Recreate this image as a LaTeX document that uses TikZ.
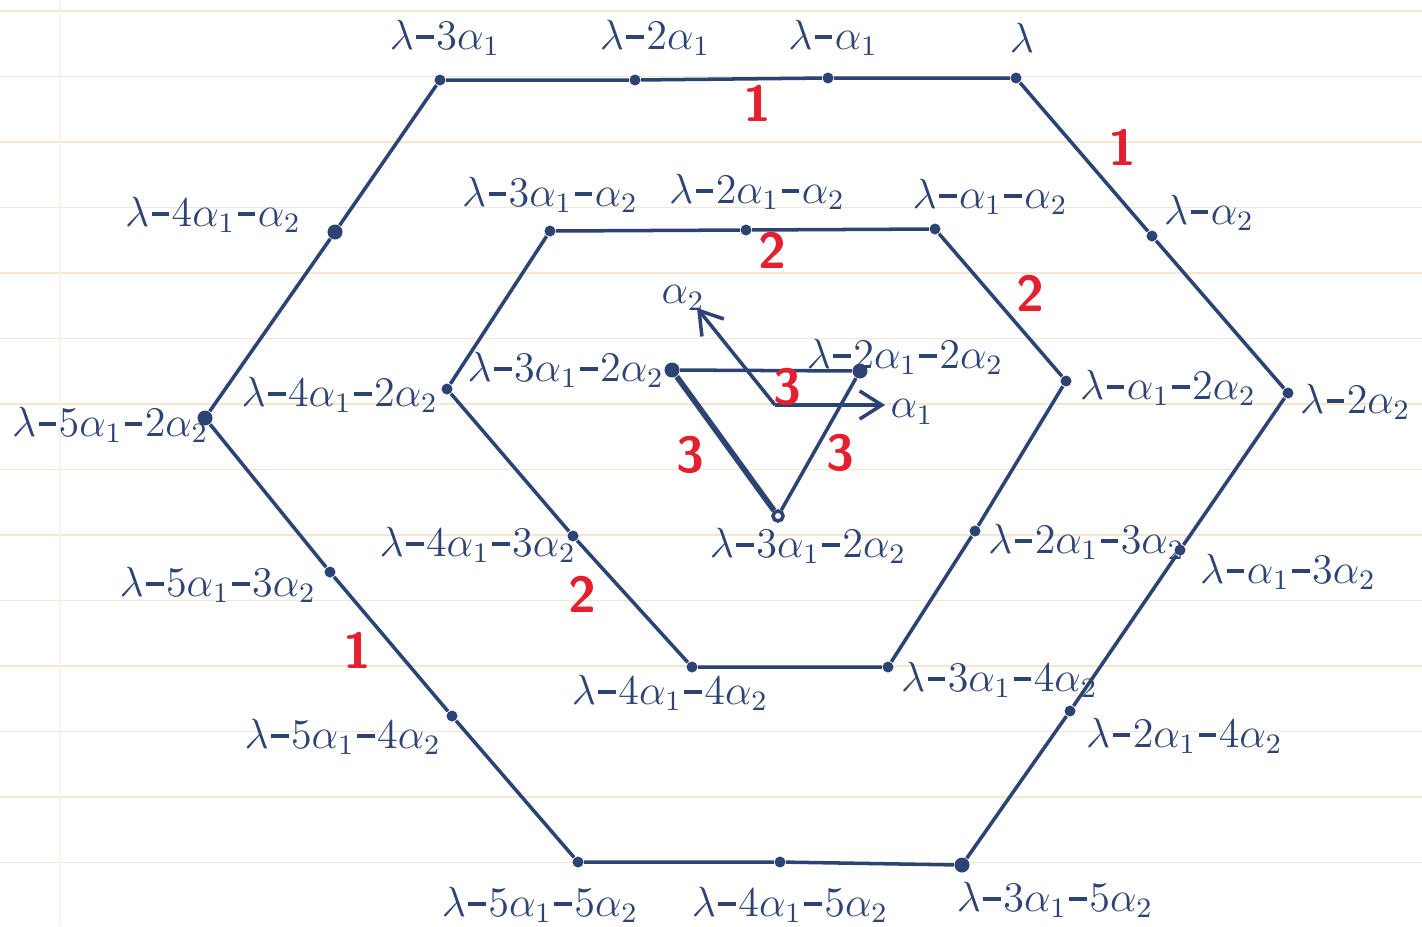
\documentclass[tikz,border=0pt]{standalone}
\usetikzlibrary{arrows.meta}
\definecolor{ink}{HTML}{2C4373}
\definecolor{redink}{HTML}{E5202E}
\definecolor{rulec}{HTML}{F5E6D2}
\newcommand\mi{\mathord{\mkern1mu\mbox{\rule[0.6ex]{0.42em}{0.075em}}\mkern1mu}}
\begin{document}
\begin{tikzpicture}[x=0.01cm,y=-0.01cm,
  dot/.style={circle,fill=ink,inner sep=0pt,minimum size=0.11cm},
  bigdot/.style={circle,fill=ink,inner sep=0pt,minimum size=0.15cm},
  odot/.style={circle,draw=ink,fill=white,line width=1pt,inner sep=0pt,minimum size=0.1cm},
  lbl/.style={text=ink,font=\fontsize{12}{14}\selectfont,inner sep=1pt},
  mult/.style={text=redink,font=\Large\bfseries\sffamily,inner sep=1pt},
  edge/.style={draw=ink,line width=1pt},
  thick edge/.style={draw=ink,line width=1.6pt},
  root/.style={draw=ink,line width=1pt,-{Straight Barb[length=2.2mm,width=2.8mm]}}]
\fill[white] (0,0) rectangle (1422,926);
\useasboundingbox (0,0) rectangle (1422,926);
\foreach \k in {0,...,13} \draw[rulec,line width=0.5pt] (0,{11+65.5*\k}) -- (1422,{11+65.5*\k});
\draw[rulec!50,line width=0.4pt] (60,0) -- (60,926);

% outer hexagon
\node[dot] (a1) at (440,80) {};
\node[dot] (a2) at (635,80) {};
\node[dot] (a3) at (828,78) {};
\node[dot] (a4) at (1016,78) {};
\node[dot] (a5) at (1152,236) {};
\node[dot] (a6) at (1288,393) {};
\node[dot] (a7) at (1180,550) {};
\node[dot] (a8) at (1070,711) {};
\node[bigdot] (a9) at (962,865) {};
\node[dot] (a10) at (780,862) {};
\node[dot] (a11) at (578,862) {};
\node[dot] (a12) at (452,716) {};
\node[dot] (a13) at (330,572) {};
\node[bigdot] (a14) at (205,418) {};
\node[bigdot] (a15) at (335,232) {};
\draw[edge] (a1)--(a2)--(a3)--(a4)--(a5)--(a6)--(a7)--(a8)--(a9)--(a10)--(a11)--(a12)--(a13)--(a14)--(a15)--(a1);

% middle hexagon
\node[dot] (b1) at (550,231) {};
\node[dot] (b2) at (746,230) {};
\node[dot] (b3) at (935,229) {};
\node[dot] (b4) at (1066,381) {};
\node[dot] (b5) at (975,531) {};
\node[dot] (b6) at (888,667) {};
\node[dot] (b7) at (692,667) {};
\node[dot] (b8) at (573,536) {};
\node[dot] (b9) at (447,389) {};
\draw[edge] (b1)--(b2)--(b3)--(b4)--(b5)--(b6)--(b7)--(b8)--(b9)--(b1);

% inner triangle
\node[bigdot] (c1) at (672,370) {};
\node[bigdot] (c2) at (860,371) {};
\node[odot] (c3) at (778,516) {};
\draw[edge] (c1)--(c2);
\draw[thick edge] (c1)--(c3);
\draw[edge] (c3)--(c2);

% roots
\coordinate (o) at (775,405);
\coordinate (e1) at (885,405);
\coordinate (e2) at (697,308);
\draw[root] (o)--(e1);
\draw[root] (o)--(e2);
\node[lbl] at (912,412) {$\alpha_1$};
\node[lbl] at (683,298) {$\alpha_2$};

% outer labels
\node[lbl] at (445,38) {$\lambda\mi3\alpha_1$};
\node[lbl] at (655,38) {$\lambda\mi2\alpha_1$};
\node[lbl] at (833,38) {$\lambda\mi\alpha_1$};
\node[lbl] at (1022,38) {$\lambda$};
\node[lbl,anchor=west] at (1160,213) {$\lambda\mi\alpha_2$};
\node[lbl,anchor=west] at (1296,402) {$\lambda\mi2\alpha_2$};
\node[lbl,anchor=west] at (1196,572) {$\lambda\mi\alpha_1\mi3\alpha_2$};
\node[lbl,anchor=west] at (1082,736) {$\lambda\mi2\alpha_1\mi4\alpha_2$};
\node[lbl] at (1055,900) {$\lambda\mi3\alpha_1\mi5\alpha_2$};
\node[lbl] at (790,905) {$\lambda\mi4\alpha_1\mi5\alpha_2$};
\node[lbl] at (540,905) {$\lambda\mi5\alpha_1\mi5\alpha_2$};
\node[lbl,anchor=east] at (445,737) {$\lambda\mi5\alpha_1\mi4\alpha_2$};
\node[lbl,anchor=east] at (320,585) {$\lambda\mi5\alpha_1\mi3\alpha_2$};
\node[lbl,anchor=west] at (8,425) {$\lambda\mi5\alpha_1\mi2\alpha_2$};
\node[lbl,anchor=east] at (305,215) {$\lambda\mi4\alpha_1\mi\alpha_2$};

% middle labels
\node[lbl] at (550,195) {$\lambda\mi3\alpha_1\mi\alpha_2$};
\node[lbl] at (757,192) {$\lambda\mi2\alpha_1\mi\alpha_2$};
\node[lbl] at (990,197) {$\lambda\mi\alpha_1\mi\alpha_2$};
\node[lbl,anchor=west] at (1076,388) {$\lambda\mi\alpha_1\mi2\alpha_2$};
\node[lbl,anchor=west] at (984,542) {$\lambda\mi2\alpha_1\mi3\alpha_2$};
\node[lbl,anchor=west] at (897,680) {$\lambda\mi3\alpha_1\mi4\alpha_2$};
\node[lbl] at (670,693) {$\lambda\mi4\alpha_1\mi4\alpha_2$};
\node[lbl,anchor=east] at (580,545) {$\lambda\mi4\alpha_1\mi3\alpha_2$};
\node[lbl,anchor=east] at (442,395) {$\lambda\mi4\alpha_1\mi2\alpha_2$};

% inner labels
\node[lbl,anchor=east] at (668,370) {$\lambda\mi3\alpha_1\mi2\alpha_2$};
\node[lbl] at (905,357) {$\lambda\mi2\alpha_1\mi2\alpha_2$};
\node[lbl] at (808,546) {$\lambda\mi3\alpha_1\mi2\alpha_2$};

% multiplicities
\node[mult] at (757,103) {1};
\node[mult] at (1122,147) {1};
\node[mult] at (357,650) {1};
\node[mult] at (772,250) {2};
\node[mult] at (1030,293) {2};
\node[mult] at (582,594) {2};
\node[mult] at (787,387) {3};
\node[mult] at (690,455) {3};
\node[mult] at (840,453) {3};
\end{tikzpicture}
\end{document}
